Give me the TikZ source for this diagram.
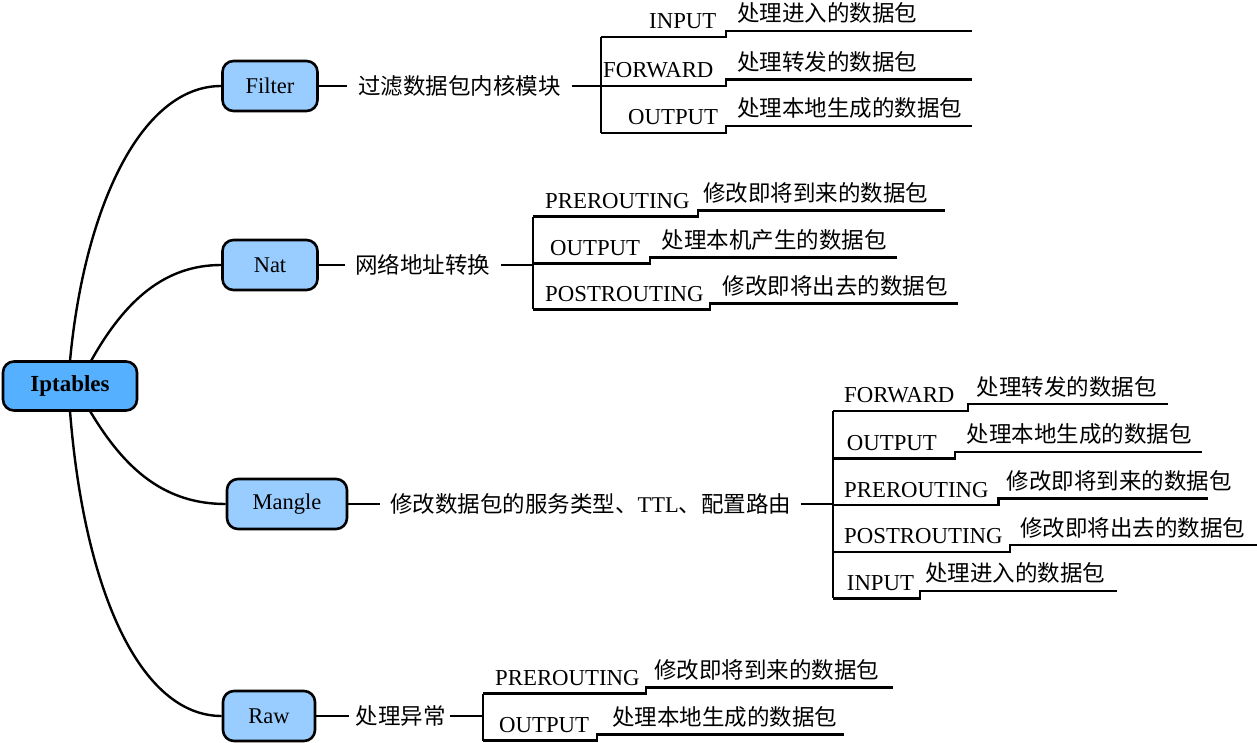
\documentclass[tikz,border=0pt]{standalone}
\usepackage{fontspec}
\setmainfont{Liberation Serif}
\newfontfamily\cjk{Noto Sans CJK SC}
\definecolor{childblue}{HTML}{99CCFF}
\definecolor{rootblue}{HTML}{55B0FF}
\tikzset{
  box/.style={draw=black, line width=2.6pt, rounded corners=11pt, fill=childblue,
    minimum width=95pt, minimum height=50pt, inner sep=0pt,
    font=\fontsize{22.5}{26}\selectfont},
  rootbox/.style={box, fill=rootblue, minimum width=134pt, minimum height=49pt,
    font=\fontsize{23}{26}\selectfont\bfseries},
  link/.style={line width=2.4pt, draw=black},
  en/.style={inner sep=0pt, anchor=base west, font=\fontsize{22.8}{26}\selectfont},
  cn/.style={inner sep=0pt, anchor=base west, font=\cjk\fontsize{22.5}{26}\selectfont},
  ptext/.style={inner sep=0pt, anchor=west, font=\cjk\fontsize{22.5}{26}\selectfont},
}
% #1 bar x, #2 lower y, #3 en x, #4 en text, #5 step x, #6 upper y, #7 cn x, #8 cn text, #9 end x
\newcommand\leafitem[9]{%
  \coordinate (b-#4-#1) at (#1,#2);
  \coordinate (s-#4-#1) at (#5,#2);
  \coordinate (t-#4-#1) at (#5,#6);
  \coordinate (u-#4-#1) at (#9,#6);
  \node[en] (e-#4-#1) at (#3,#2-8) {#4};
  \node[cn] (c-#4-#1) at (#7,#6-9) {#8};
  \draw[link] (b-#4-#1) -- (s-#4-#1) -- (t-#4-#1) -- (u-#4-#1);
}
\begin{document}
\begin{tikzpicture}[x=1pt,y=-1pt]
\useasboundingbox (0,0) rectangle (1257,743);

% main nodes
\node[rootbox] (ipt) at (70,386) {Iptables};
\node[box] (filter) at (270,86) {Filter};
\node[box] (nat) at (270,265) {Nat};
\node[box, minimum width=120pt] (mangle) at (287,504) {Mangle};
\node[box, minimum width=92pt] (raw) at (269,716) {Raw};

% curves from root
\coordinate (ipt-t1) at (70,361);
\coordinate (ipt-t2) at (91,361);
\coordinate (ipt-b1) at (70,411);
\coordinate (ipt-b2) at (90,411);
\draw[link] (ipt-t1) .. controls (84,210) and (140,86) .. (filter.west);
\draw[link] (ipt-t2) .. controls (125,300) and (165,265) .. (nat.west);
\draw[link] (ipt-b2) .. controls (125,470) and (165,504) .. (mangle.west);
\draw[link] (ipt-b1) .. controls (84,590) and (140,716) .. (raw.west);

% Filter branch
\node[ptext] (ftext) at (358,86) {过滤数据包内核模块};
\coordinate (fbar) at (601,86);
\draw[link] (filter.east) -- ([xshift=-11pt]ftext.west);
\draw[link] ([xshift=11pt]ftext.east) -- (fbar);
\coordinate (fbar-top) at (601,37);
\coordinate (fbar-bot) at (601,133);
\draw[link] (fbar-top) -- (fbar-bot);
\leafitem{601}{37}{649}{INPUT}{726}{31}{737}{处理进入的数据包}{972}
\leafitem{601}{86}{603}{FORWARD}{726}{79.5}{737}{处理转发的数据包}{972}
\leafitem{601}{133}{628}{OUTPUT}{726}{126}{737}{处理本地生成的数据包}{972}

% Nat branch
\node[ptext] (ntext) at (355,265) {网络地址转换};
\coordinate (nbar) at (533,265);
\draw[link] (nat.east) -- ([xshift=-10pt]ntext.west);
\draw[link] ([xshift=11pt]ntext.east) -- (nbar);
\coordinate (nbar-top) at (533,216.7);
\coordinate (nbar-bot) at (533,309.3);
\draw[link] (nbar-top) -- (nbar-bot);
\leafitem{533}{216.7}{545}{PREROUTING}{698}{210.7}{703}{修改即将到来的数据包}{945}
\leafitem{533}{263.3}{550}{OUTPUT}{650}{257.3}{661.7}{处理本机产生的数据包}{896.7}
\leafitem{533}{309.3}{545}{POSTROUTING}{710}{303.3}{722.7}{修改即将出去的数据包}{958}

% Mangle branch
\node[ptext] (mtext) at (390,504) {修改数据包的服务类型、{\rmfamily TTL}、配置路由};
\coordinate (mbar) at (833,504);
\draw[link] (mangle.east) -- ([xshift=-10pt]mtext.west);
\draw[link] ([xshift=9pt]mtext.east) -- (mbar);
\coordinate (mbar-top) at (833,410.7);
\coordinate (mbar-bot) at (833,598.3);
\draw[link] (mbar-top) -- (mbar-bot);
\leafitem{833}{410.7}{844}{FORWARD}{968}{404}{976.7}{处理转发的数据包}{1168}
\leafitem{833}{458.3}{846.7}{OUTPUT}{955}{451.7}{966.7}{处理本地生成的数据包}{1201.7}
\leafitem{833}{505}{844}{PREROUTING}{998.3}{498.3}{1006.7}{修改即将到来的数据包}{1208}
\leafitem{833}{551.7}{844}{POSTROUTING}{1010}{545}{1020}{修改即将出去的数据包}{1257}
\leafitem{833}{598.3}{846.7}{INPUT}{920}{590.7}{925}{处理进入的数据包}{1116.7}

% Raw branch
\node[ptext] (rtext) at (355.5,716) {处理异常};
\coordinate (rbar) at (483,716);
\draw[link] (raw.east) -- ([xshift=-7pt]rtext.west);
\draw[link] ([xshift=4pt]rtext.east) -- (rbar);
\coordinate (rbar-top) at (483,693.5);
\coordinate (rbar-bot) at (483,740.5);
\draw[link] (rbar-top) -- (rbar-bot);
\leafitem{483}{693.5}{495}{PREROUTING}{646}{687.5}{654}{修改即将到来的数据包}{893}
\leafitem{483}{740.5}{499}{OUTPUT}{597}{734.5}{612}{处理本地生成的数据包}{844}
\end{tikzpicture}
\end{document}
